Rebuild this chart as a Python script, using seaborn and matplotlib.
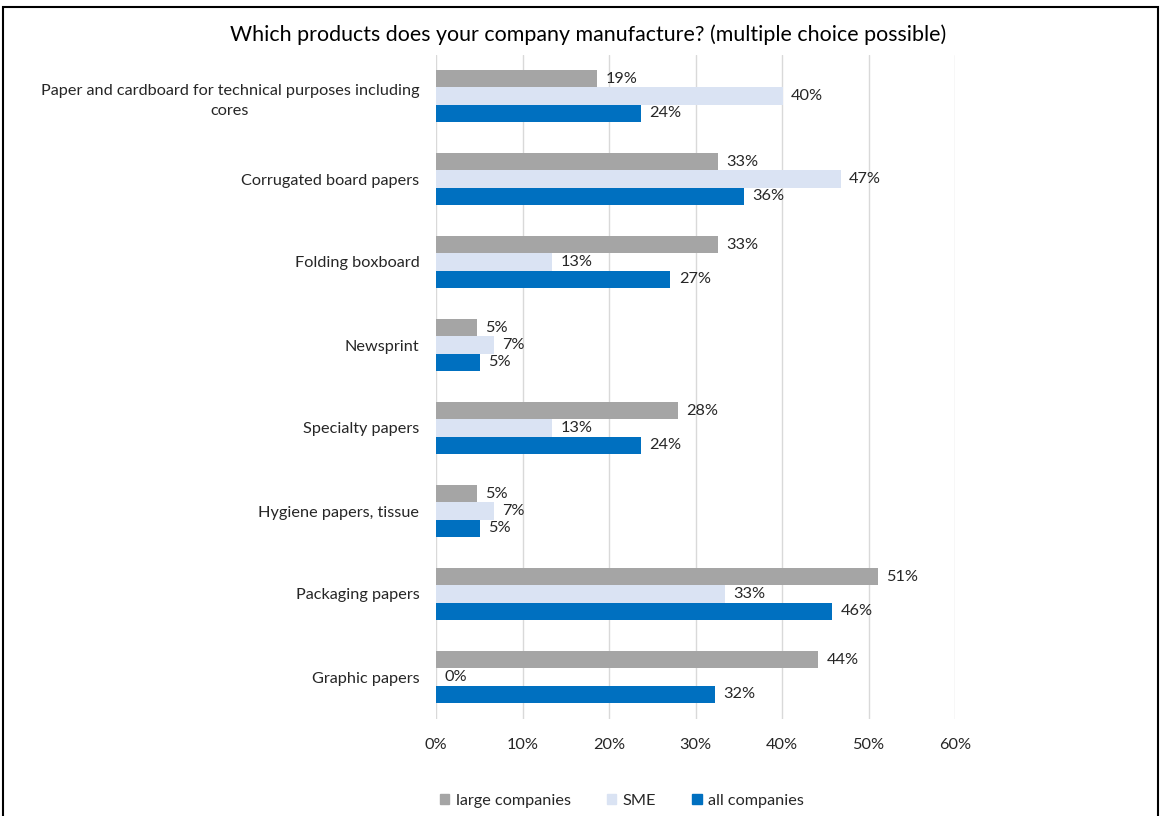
import matplotlib
matplotlib.use("Agg")
import matplotlib.pyplot as plt
import seaborn as sns
import pandas as pd
from matplotlib.patches import Rectangle

categories = [
    "Paper and cardboard for technical purposes including\ncores",
    "Corrugated board papers",
    "Folding boxboard",
    "Newsprint",
    "Specialty papers",
    "Hygiene papers, tissue",
    "Packaging papers",
    "Graphic papers",
]
series = ["large companies", "SME", "all companies"]
large_companies = [18.6, 32.6, 32.6, 4.7, 28.0, 4.7, 51.1, 44.2]
sme = [40.1, 46.8, 13.4, 6.7, 13.4, 6.7, 33.4, 0.0]
all_companies = [23.7, 35.6, 27.1, 5.1, 23.7, 5.1, 45.8, 32.3]
colors = ["#A5A5A5", "#DAE3F3", "#0070C0"]
xticks = [0, 10, 20, 30, 40, 50, 60]

sns.set_style("white")
plt.rcParams["font.family"] = ["Lato", "DejaVu Sans"]
text_color = "#262626"
fs = 11.7

df = pd.DataFrame({
    "category": categories * 3,
    "series": [series[0]] * 8 + [series[1]] * 8 + [series[2]] * 8,
    "value": large_companies + sme + all_companies,
})

W, H = 1161, 816
fig = plt.figure(figsize=(W / 100, H / 100), dpi=100)
ax = fig.add_axes([436 / W, 1 - 718.5 / H, (955 - 436) / W, (718.5 - 54.5) / H])

sns.barplot(data=df, y="category", x="value", hue="series", order=categories,
            hue_order=series, palette=colors, orient="h", width=0.615,
            saturation=1, ax=ax, legend=False, linewidth=0)

ax.set_xlim(0, 60)
ax.set_xticks(xticks)
ax.set_xticklabels([f"{t}%" for t in xticks], fontsize=fs, color=text_color)
ax.tick_params(axis="x", length=0, pad=14)
ax.tick_params(axis="y", length=0, pad=12, labelsize=fs, labelcolor=text_color)
for lab in ax.get_yticklabels():
    lab.set_multialignment("center")
    lab.set_linespacing(1.6)
ax.set_xlabel("")
ax.set_ylabel("")
ax.grid(axis="x", color="#D9D9D9", linewidth=1)
ax.set_axisbelow(True)
for s in ax.spines.values():
    s.set_visible(False)

vals = [large_companies, sme, all_companies]
for cont, v in zip(ax.containers, vals):
    ax.bar_label(cont, labels=[f"{round(x)}%" for x in v], padding=6,
                 fontsize=fs, color=text_color)

handles = [Rectangle((0, 0), 1, 1, color=c) for c in colors]
fig.legend(handles, series, loc="center", bbox_to_anchor=(622 / W, 1 - 801 / H),
           ncol=3, frameon=False, fontsize=fs, handlelength=0.6, handleheight=0.6,
           handletextpad=0.4, columnspacing=2.2, labelcolor=text_color)

fig.text(588 / W, 1 - 35 / H, "Which products does your company manufacture? (multiple choice possible)",
         ha="center", va="center", fontsize=15.4, color="#000000")

fig.patches.append(Rectangle((3 / W, -0.05), (1158 - 3) / W, 1.05 - 7 / H,
                             transform=fig.transFigure, fill=False,
                             edgecolor="black", linewidth=1.5))

fig.savefig("out.png", dpi=100)
